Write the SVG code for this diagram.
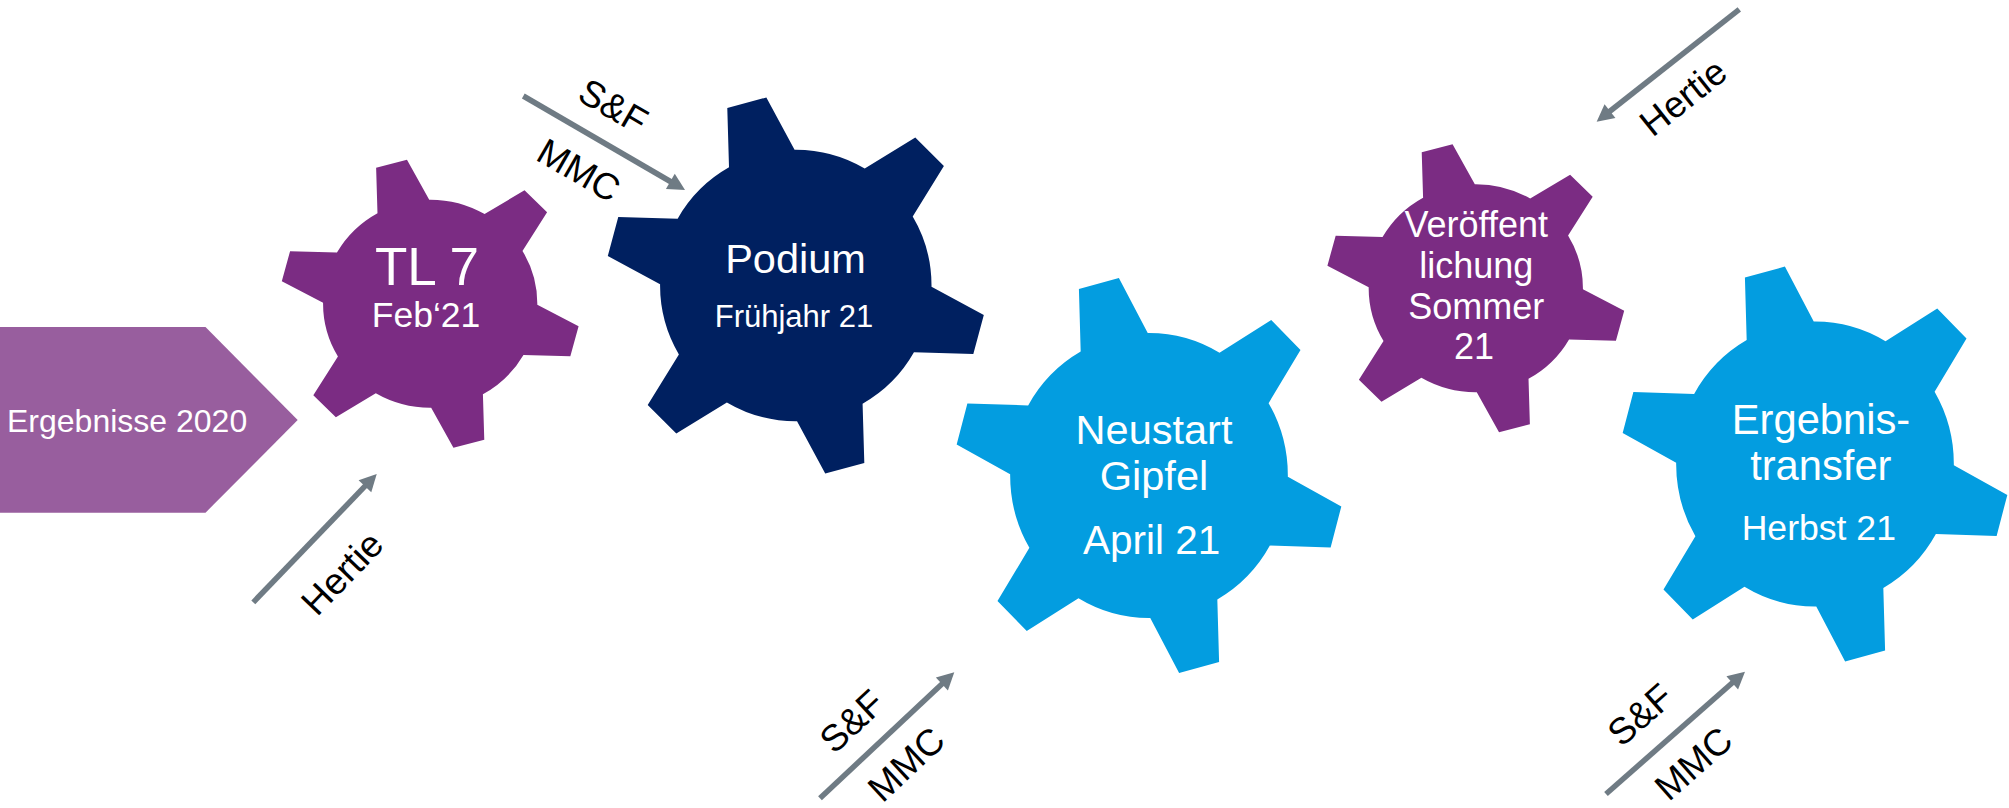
<svg xmlns="http://www.w3.org/2000/svg" width="2009" height="808" viewBox="0 0 2009 808">
<style>
.w{fill:#ffffff;font-family:"Liberation Sans",Arial,sans-serif;text-anchor:middle}
.lbl{fill:#000000;font-family:"Liberation Sans",Arial,sans-serif;font-size:37px;text-anchor:middle}
.arr{stroke:#6f7b84;stroke-width:5.5;fill:none;marker-end:url(#ah)}
.purple{fill:#7b2c83}
.navy{fill:#002060}
.blue{fill:#039de0}
</style>
<defs>
<marker id="ah" markerUnits="userSpaceOnUse" markerWidth="30" markerHeight="30" refX="0" refY="0" orient="auto" overflow="visible">
<path d="M-7,-8.8 L10,0 L-7,8.8 Z" fill="#6f7b84"/>
</marker>
<path id="gear" d="M-26,-100.7 L-15.5,-145 L15.5,-145 L26,-100.7 A104,104 0 0 1 74.21,-72.87 L117.82,-85.92 L133.32,-59.08 L100.21,-27.83 A104,104 0 0 1 100.21,27.83 L133.32,59.08 L117.82,85.92 L74.21,72.87 A104,104 0 0 1 26,100.7 L15.5,145 L-15.5,145 L-26,100.7 A104,104 0 0 1 -74.21,72.87 L-117.82,85.92 L-133.32,59.08 L-100.21,27.83 A104,104 0 0 1 -100.21,-27.83 L-133.32,-59.08 L-117.82,-85.92 L-74.21,-72.87 A104,104 0 0 1 -26,-100.7 Z"/>
</defs>

<g id="ergebnisse2020">
<polygon points="0,327 205.5,327 297.7,420 205.5,512.7 0,512.7" fill="#985e9e"/>
<text class="w" x="7" y="432" font-size="32" style="text-anchor:start">Ergebnisse 2020</text>
</g>

<g id="tl7">
<use href="#gear" class="purple" transform="translate(430.2,303.7) scale(1.03,1) rotate(-15)"/>
<text class="w" x="427" y="285" font-size="53">TL 7</text>
<text class="w" x="426" y="327" font-size="35.5">Feb‘21</text>
</g>

<g id="podium">
<use href="#gear" class="navy" transform="translate(795.8,285.5) scale(1.305) rotate(-15)"/>
<text class="w" x="795.5" y="272.7" font-size="41.5">Podium</text>
<text class="w" x="794" y="326.7" font-size="31">Frühjahr 21</text>
</g>

<g id="neustart">
<use href="#gear" class="blue" transform="translate(1149,475.5) scale(1.335,1.37) rotate(-15)"/>
<text class="w" x="1154" y="444" font-size="41.5">Neustart</text>
<text class="w" x="1154" y="490" font-size="41.5">Gipfel</text>
<text class="w" x="1151.7" y="554" font-size="40.5">April 21</text>
</g>

<g id="veroeffentlichung">
<use href="#gear" class="purple" transform="translate(1475.8,288.2) scale(1.03,1) rotate(-15)"/>
<text class="w" x="1476.3" y="237.3" font-size="36">Veröffent</text>
<text class="w" x="1476.3" y="277.8" font-size="36">lichung</text>
<text class="w" x="1476.3" y="319.3" font-size="36">Sommer</text>
<text class="w" x="1474" y="358.8" font-size="36">21</text>
</g>

<g id="ergebnistransfer">
<use href="#gear" class="blue" transform="translate(1815,464) scale(1.335,1.37) rotate(-15)"/>
<text class="w" x="1821" y="434" font-size="41.7">Ergebnis-</text>
<text class="w" x="1820.8" y="480" font-size="41.7">transfer</text>
<text class="w" x="1818.8" y="540" font-size="35.6">Herbst 21</text>
</g>

<g id="connectors">
<line class="arr" x1="253.3" y1="602.3" x2="369.8" y2="481.2"/>
<line class="arr" x1="523.3" y1="96" x2="676.4" y2="185"/>
<line class="arr" x1="820" y1="798.3" x2="947" y2="679.2"/>
<line class="arr" x1="1606" y1="794" x2="1737.5" y2="678.3"/>
<line class="arr" x1="1739.3" y1="9.3" x2="1604.5" y2="115.5"/>
<text class="lbl" transform="translate(342,573) rotate(-46)" y="13">Hertie</text>
<text class="lbl" transform="translate(613.3,106) rotate(30)" y="13">S&amp;F</text>
<text class="lbl" transform="translate(579,170) rotate(30)" y="13">MMC</text>
<text class="lbl" transform="translate(851.7,721) rotate(-43)" y="13">S&amp;F</text>
<text class="lbl" transform="translate(906,764) rotate(-43)" y="13">MMC</text>
<text class="lbl" transform="translate(1640,714.5) rotate(-41.3)" y="13">S&amp;F</text>
<text class="lbl" transform="translate(1693.3,763.3) rotate(-41.3)" y="13">MMC</text>
<text class="lbl" transform="translate(1683,97) rotate(-38.5)" y="13">Hertie</text>
</g>
</svg>
